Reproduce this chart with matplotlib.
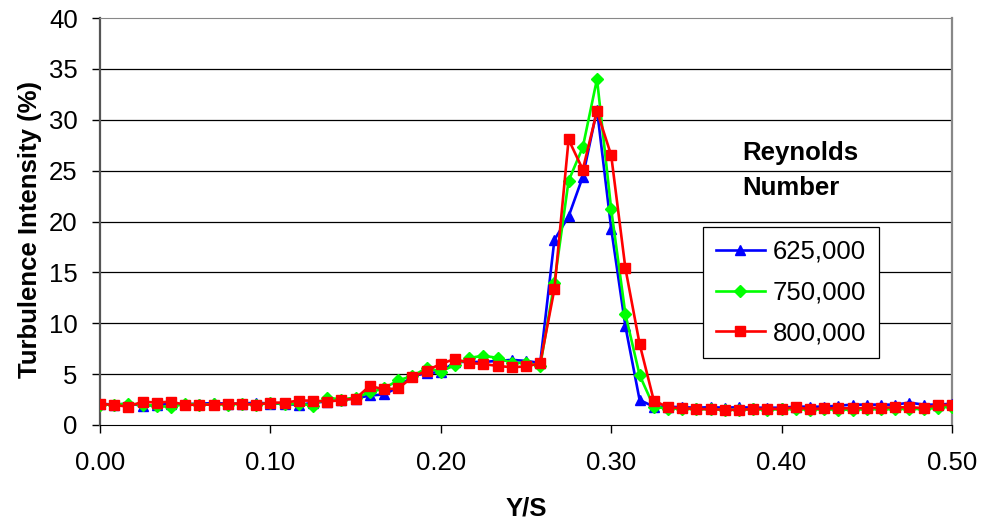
#!/usr/bin/env python3
"""Turbulence intensity profiles across Y/S for three Reynolds numbers."""

import matplotlib
matplotlib.use("Agg")
import matplotlib.pyplot as plt
import numpy as np

plt.rcParams["font.family"] = ["Liberation Sans", "DejaVu Sans"]

# Y/S stations: 61 points, 0 to 0.5
y_over_s = np.arange(61) / 120.0

re_labels = ["625,000", "750,000", "800,000"]

ti_625k = [2.1, 2.0, 2.1, 1.9, 1.95, 2.1, 2.05, 2.1, 2.15, 2.1,
           2.1, 2.2, 2.1, 2.1, 1.95, 2.2, 2.3, 2.5, 2.6, 2.9,
           3.0, 3.7, 4.8, 5.1, 5.2, 6.2, 6.2, 6.2, 6.3, 6.4,
           6.3, 6.1, 18.2, 20.5, 24.4, 31.0, 19.3, 9.7, 2.46, 1.8,
           1.8, 1.75, 1.7, 1.75, 1.7, 1.75, 1.7, 1.7, 1.7, 1.8,
           1.8, 1.8, 1.9, 2.0, 2.0, 2.0, 2.0, 2.2, 2.0, 2.0, 2.1]

ti_750k = [2.0, 2.0, 2.1, 2.0, 1.9, 1.75, 2.1, 2.0, 2.05, 2.0,
           2.1, 2.0, 2.15, 2.1, 2.1, 1.9, 2.7, 2.5, 2.7, 3.2,
           3.6, 4.4, 4.8, 5.6, 5.25, 5.9, 6.6, 6.8, 6.6, 6.1,
           6.1, 5.8, 14.0, 24.0, 27.3, 34.0, 21.2, 10.9, 4.9, 1.8,
           1.6, 1.6, 1.55, 1.55, 1.5, 1.5, 1.55, 1.5, 1.55, 1.55,
           1.5, 1.55, 1.5, 1.5, 1.55, 1.55, 1.55, 1.6, 1.55, 1.7, 1.8]

ti_800k = [2.07, 1.97, 1.8, 2.3, 2.2, 2.3, 1.97, 2.0, 2.0, 2.1,
           2.1, 1.97, 2.2, 2.2, 2.4, 2.4, 2.3, 2.45, 2.6, 3.84,
           3.5, 3.6, 4.7, 5.35, 6.0, 6.5, 6.08, 6.0, 5.8, 5.68,
           5.75, 6.07, 13.36, 28.06, 25.1, 30.85, 26.5, 15.4, 7.97, 2.4,
           1.74, 1.64, 1.58, 1.55, 1.5, 1.48, 1.58, 1.6, 1.58, 1.74,
           1.55, 1.64, 1.64, 1.64, 1.67, 1.7, 1.74, 1.74, 1.67, 1.97, 1.97]

fig = plt.figure(figsize=(9.84, 5.27), dpi=100)
ax = fig.add_axes([100 / 984, 102 / 527, 852 / 984, 407 / 527])

# horizontal gridlines
for g in range(5, 40, 5):
    ax.axhline(g, color="black", lw=0.9, zorder=1)

ax.plot(y_over_s, ti_625k, color="#0000FF", lw=1.9, marker="^", ms=7.5,
        label=re_labels[0], zorder=3)
ax.plot(y_over_s, ti_750k, color="#00FF00", lw=1.9, marker="D", ms=6,
        label=re_labels[1], zorder=4)
ax.plot(y_over_s, ti_800k, color="#FF0000", lw=1.9, marker="s", ms=7.5,
        label=re_labels[2], zorder=5)

ax.set_xlim(0, 0.5)
ax.set_ylim(0, 40)
ax.set_xticks(np.arange(0, 0.51, 0.1))
ax.set_xticklabels([f"{v:.2f}" for v in np.arange(0, 0.51, 0.1)])
ax.set_yticks(range(0, 41, 5))
ax.tick_params(axis="x", direction="out", length=6, width=1, pad=13, labelsize=18.5)
ax.tick_params(axis="y", direction="out", length=6, width=1, pad=10, labelsize=18.5)

ax.spines["left"].set_color("#555555")
ax.spines["left"].set_linewidth(1.6)
ax.spines["bottom"].set_color("black")
ax.spines["top"].set_color("#888888")
ax.spines["right"].set_color("#888888")
ax.spines["right"].set_linewidth(1.6)

ax.set_xlabel("Y/S", fontsize=18.5, fontweight="bold", va="center")
ax.xaxis.set_label_coords(0.5, -0.206)
ax.set_ylabel("Turbulence Intensity (%)", fontsize=18.5, fontweight="bold", va="center")
ax.yaxis.set_label_coords(-0.082, 0.48)

fig.text(742 / 984, 1 - 153 / 527, "Reynolds", fontsize=18.5, fontweight="bold",
         ha="left", va="center")
fig.text(742 / 984, 1 - 188 / 527, "Number", fontsize=18.5, fontweight="bold",
         ha="left", va="center")

leg = ax.legend(loc="upper left", bbox_to_anchor=((703 - 100) / 852, (425 - 227) / 407),
                fontsize=18.5, frameon=True, fancybox=False, framealpha=1,
                edgecolor="black", handlelength=1.9, borderpad=0.5,
                labelspacing=0.65, handletextpad=0.3, borderaxespad=0)
leg.get_frame().set_linewidth(0.9)

fig.savefig("out.png", dpi=100)
